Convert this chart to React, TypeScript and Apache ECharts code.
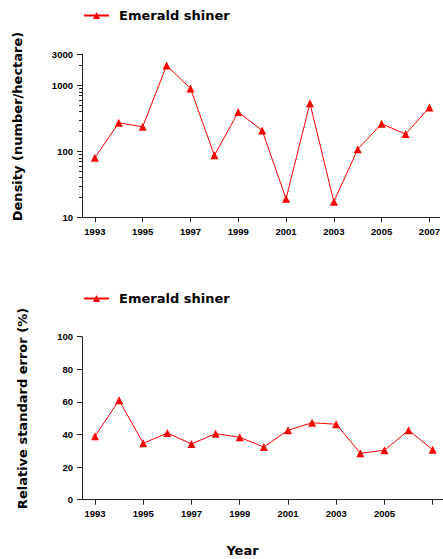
import React, { useEffect, useRef } from "react";
import * as echarts from "echarts";

const years = [1993, 1994, 1995, 1996, 1997, 1998, 1999, 2000, 2001, 2002, 2003, 2004, 2005, 2006, 2007];
const density = [80, 271, 236, 2010, 901, 87, 394, 208, 19.1, 539, 17.2, 108, 262, 183, 464];
const rse = [39, 61, 34.6, 40.9, 34.2, 40.5, 38.3, 32.3, 42.6, 47.2, 46.3, 28.5, 30.3, 42.6, 30.7];
const yearTicks = [1993, 1995, 1997, 1999, 2001, 2003, 2005, 2007];
const topYearLabels = [1993, 1995, 1997, 1999, 2001, 2003, 2005, 2007];
const bottomYearLabels = [1993, 1995, 1997, 1999, 2001, 2003, 2005];
const densityTicks = [10, 100, 1000, 3000];
const densityMinorTicks = [20, 30, 40, 50, 60, 70, 80, 90, 200, 300, 400, 500, 600, 700, 800, 900, 2000];
const seriesName = "Emerald shiner";

const RED = "#ff0000";
const AX = "#222";
const labelFont = {
  color: "#000",
  fontWeight: "bold" as const,
  fontSize: 9.5,
  fontFamily: "'Liberation Sans Narrow', 'Liberation Sans', Arial, sans-serif",
};

function xAxisCfg(gridIndex: number, labels: number[]) {
  return {
    type: "value",
    gridIndex,
    min: 1992.461,
    max: 2007.427,
    axisLine: { show: true, onZero: false, lineStyle: { color: AX, width: 1 } },
    axisTick: { show: true, length: 5, customValues: yearTicks, lineStyle: { color: AX } },
    axisLabel: { ...labelFont, margin: 9, customValues: labels, formatter: (v: number) => String(v) },
    splitLine: { show: false },
  };
}

const legendText = { color: "#000", fontWeight: "bold" as const, fontSize: 13, fontFamily: "'DejaVu Sans', sans-serif" };

export default function App() {
  const ref = useRef<HTMLDivElement>(null);
  useEffect(() => {
    if (!ref.current) return;
    const chart = echarts.init(ref.current, undefined, { renderer: "svg" });
    const pts1 = years.map((y, i) => [y, density[i]]);
    const pts2 = years.map((y, i) => [y, rse[i]]);
    const titleFont = "bold 13px 'DejaVu Sans', sans-serif";
    chart.setOption({
      animation: false,
      backgroundColor: "#fff",
      legend: [
        {
          left: 83,
          top: 9,
          padding: 0,
          itemWidth: 25,
          itemHeight: 9,
          itemGap: 10,
          data: [seriesName],
          textStyle: { ...legendText, padding: [0, 0, 0, 5] },
        },
        {
          left: 83,
          top: 292,
          padding: 0,
          itemWidth: 25,
          itemHeight: 9,
          itemGap: 10,
          data: [seriesName],
          textStyle: { ...legendText, padding: [0, 0, 0, 5] },
        },
      ],
      grid: [
        { left: 82, top: 54, width: 361, height: 163.3, containLabel: false },
        { left: 82, top: 336.7, width: 361, height: 163, containLabel: false },
      ],
      xAxis: [xAxisCfg(0, topYearLabels), xAxisCfg(1, bottomYearLabels)],
      yAxis: [
        {
          type: "log",
          gridIndex: 0,
          logBase: 10,
          min: 10,
          max: 3000,
          axisLine: { show: true, lineStyle: { color: AX, width: 1 } },
          axisTick: { show: true, length: 5, customValues: densityTicks, lineStyle: { color: AX } },
          axisLabel: { ...labelFont, margin: 9, customValues: densityTicks, formatter: (v: number) => String(v) },
          splitLine: { show: false },
        },
        {
          type: "log",
          gridIndex: 0,
          position: "left",
          offset: 0,
          logBase: 10,
          min: 10,
          max: 3000,
          axisLine: { show: false },
          axisTick: { show: true, length: 3, customValues: densityMinorTicks, lineStyle: { color: AX } },
          axisLabel: { show: false },
          splitLine: { show: false },
        },
        {
          type: "value",
          gridIndex: 1,
          min: 0,
          max: 100,
          interval: 20,
          axisLine: { show: true, lineStyle: { color: AX, width: 1 } },
          axisTick: { show: true, length: 5, lineStyle: { color: AX } },
          axisLabel: { ...labelFont, margin: 9 },
          splitLine: { show: false },
        },
      ],
      series: [
        {
          name: seriesName,
          type: "line",
          xAxisIndex: 0,
          yAxisIndex: 0,
          data: pts1,
          symbol: "triangle",
          symbolSize: 8,
          lineStyle: { color: RED, width: 1 },
          itemStyle: { color: RED },
        },
        {
          name: seriesName,
          type: "line",
          xAxisIndex: 1,
          yAxisIndex: 2,
          data: pts2,
          symbol: "triangle",
          symbolSize: 8,
          lineStyle: { color: RED, width: 1 },
          itemStyle: { color: RED },
        },
      ],
      graphic: [
        {
          type: "text",
          x: 17.5,
          y: 126.5,
          rotation: Math.PI / 2,
          style: { text: "Density (number/hectare)", font: titleFont, fill: "#000", align: "center", verticalAlign: "middle" },
        },
        {
          type: "text",
          x: 22,
          y: 408.5,
          rotation: Math.PI / 2,
          style: { text: "Relative standard error (%)", font: titleFont, fill: "#000", align: "center", verticalAlign: "middle" },
        },
        {
          type: "text",
          x: 242.5,
          y: 550,
          style: { text: "Year", font: titleFont, fill: "#000", align: "center", verticalAlign: "middle" },
        },
      ],
    });
    return () => chart.dispose();
  }, []);
  return <div ref={ref} style={{ position: "absolute", left: 0, top: 0, width: 443, height: 559 }} />;
}
